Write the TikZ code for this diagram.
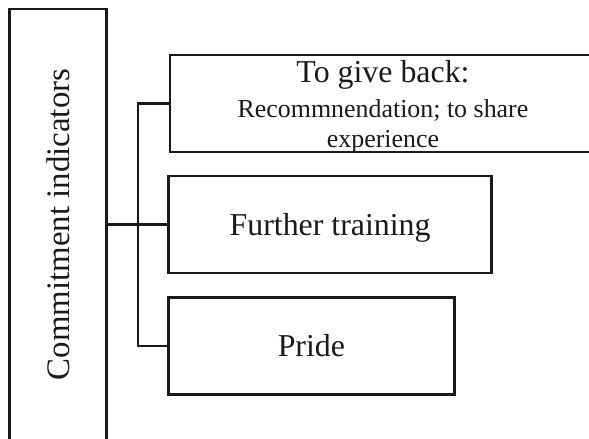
\documentclass[tikz,border=0pt]{standalone}
\usepackage{fontspec}
\setmainfont{Liberation Serif}
\definecolor{ink}{HTML}{1A1A1A}
\begin{document}
\begin{tikzpicture}[x=1bp,y=-1bp,
  box/.style={draw=ink, line width=2.6bp, rectangle, inner sep=0pt, text=ink},
  conn/.style={draw=ink, line width=2.3bp}]
\useasboundingbox (0,0) rectangle (589,439);
\node[box, rotate=90, minimum width=431bp, minimum height=96.6bp,
      font=\fontsize{33}{36}\selectfont] (ci) at (58,224.5) {Commitment indicators};
\node[box, minimum width=426bp, minimum height=97bp, align=center,
      text height=89bp, text depth=0pt,
      font=\fontsize{26}{31}\selectfont] (give) at (383,103.5)
      {{\fontsize{32}{34}\selectfont To give back:}\\[4bp] Recommnendation; to share\\ experience};
\node[box, minimum width=323.2bp, minimum height=97bp, text height=22bp, text depth=0pt,
      font=\fontsize{32}{36}\selectfont] (further) at (330.1,224.5) {Further training};
\node[box, minimum width=285.8bp, minimum height=97.2bp, text height=22bp, text depth=0pt,
      font=\fontsize{32}{36}\selectfont] (pride) at (311.4,345.9) {Pride};
\coordinate (j) at (138.3,224.5);
\draw[conn] (ci.south) -- (further.west);
\draw[conn] (give.west) -| (j) |- (pride.west);
\end{tikzpicture}
\end{document}
